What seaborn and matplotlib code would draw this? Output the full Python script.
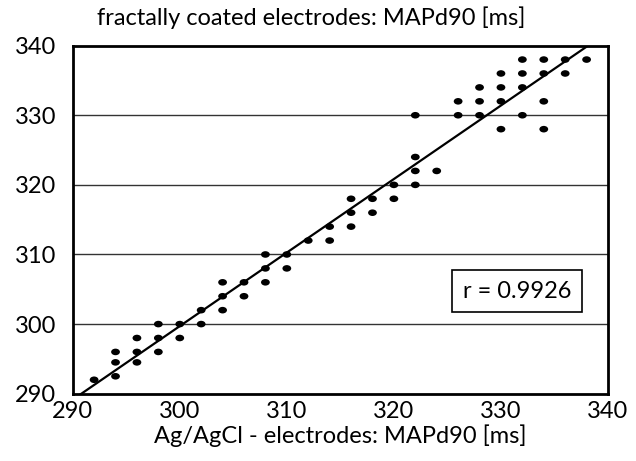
import numpy as np
import pandas as pd
import matplotlib
matplotlib.use("Agg")
import matplotlib.pyplot as plt
from matplotlib.path import Path
import seaborn as sns

# MAPd90 durations [ms]: Ag/AgCl reference electrodes vs. fractally coated electrodes
ag_agcl = [292,
           294, 294, 294,
           296, 296, 296,
           298, 298, 298,
           300, 300,
           302, 302,
           304, 304, 304,
           306, 306,
           308, 308, 308,
           310, 310,
           312,
           314, 314,
           316, 316, 316,
           318, 318,
           320, 320,
           322, 322, 322, 322,
           324,
           326, 326,
           328, 328, 328,
           330, 330, 330, 330,
           332, 332, 332, 332,
           334, 334, 334, 334,
           336, 336,
           338]
fractal = [292,
           292.5, 294.5, 296,
           294.5, 296, 298,
           296, 298, 300,
           298, 300,
           300, 302,
           302, 304, 306,
           304, 306,
           306, 308, 310,
           308, 310,
           312,
           312, 314,
           314, 316, 318,
           316, 318,
           318, 320,
           320, 322, 324, 330,
           322,
           330, 332,
           330, 332, 334,
           328, 332, 334, 336,
           330, 334, 336, 338,
           328, 332, 336, 338,
           336, 338,
           338]
r_text = "r = 0.9926"

x_ticks = [290, 300, 310, 320, 330, 340]
y_ticks = [290, 300, 310, 320, 330, 340]
grid_levels = [300, 310, 320, 330]

df = pd.DataFrame({"ag": ag_agcl, "fr": fractal})

# slightly flattened dot used for the measurements
circle = Path.unit_circle()
dot = Path(circle.vertices * np.array([1.0, 0.75]), circle.codes)

sns.set_style("white")
plt.rcParams["font.family"] = ["Lato", "DejaVu Sans"]

fig = plt.figure(figsize=(6.36, 4.61), dpi=100)
ax = fig.add_axes([0.1143, 0.146, 0.9560 - 0.1143, 0.901 - 0.146])

for g in grid_levels:
    ax.axhline(g, color="#333333", lw=1.0, zorder=1)

sns.regplot(data=df, x="ag", y="fr", ax=ax, ci=None, truncate=False, marker=dot,
            scatter_kws=dict(s=40, color="black", alpha=1, edgecolor="none", zorder=3),
            line_kws=dict(color="black", lw=1.6, zorder=2))

ax.set_xlim(290, 340)
ax.set_ylim(290, 340)
ax.set_xticks(x_ticks)
ax.set_yticks(y_ticks)
ax.set_xticks(np.arange(295, 340, 10), minor=True)
ax.set_yticks(np.arange(295, 340, 10), minor=True)
ax.tick_params(axis="both", which="both", direction="in", length=5, width=1.2,
               color="black", labelsize=17, labelcolor="black")
ax.tick_params(axis="x", which="major", pad=5)
ax.tick_params(axis="y", which="major", pad=12)
ax.tick_params(axis="y", which="major", length=0)

for sp in ax.spines.values():
    sp.set_color("black")
    sp.set_linewidth(2.0)

ax.set_xlabel("")
ax.set_ylabel("")
fig.text(0.5352, 0.054, "Ag/AgCl - electrodes: MAPd90 [ms]", ha="center", va="center",
         fontsize=17, color="black")
fig.text(97 / 636, 0.962, "fractally coated electrodes: MAPd90 [ms]", ha="left", va="center",
         fontsize=17, color="black")

ax.text(0.830, 0.294, r_text, transform=ax.transAxes, ha="center", va="center",
        fontsize=17, color="black", zorder=5,
        bbox=dict(boxstyle="square,pad=0.45", facecolor="white", edgecolor="black", lw=1.2))

fig.savefig("out.png", dpi=100)
